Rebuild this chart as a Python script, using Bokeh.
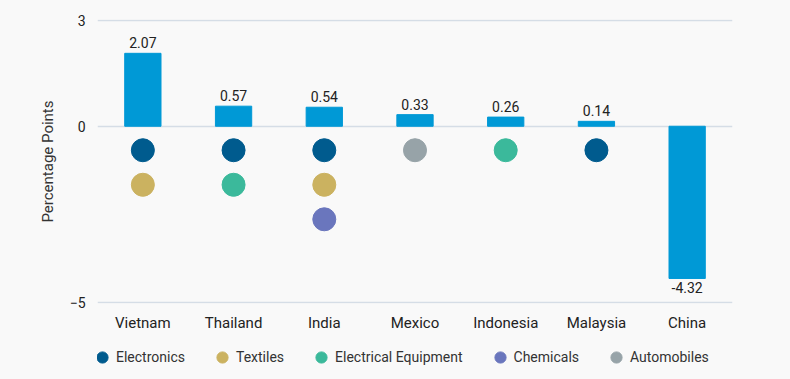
from bokeh.plotting import figure
from bokeh.layouts import column
from bokeh.models import ColumnDataSource, Legend, LegendItem, FixedTicker, Range1d
from bokeh.embed import file_html
from bokeh.resources import INLINE
from bokeh.core.properties import value

countries = ["Vietnam", "Thailand", "India", "Mexico", "Indonesia", "Malaysia", "China"]
values = [2.07, 0.57, 0.54, 0.33, 0.26, 0.14, -4.32]
labels = ["2.07", "0.57", "0.54", "0.33", "0.26", "0.14", "-4.32"]

industries = ["Electronics", "Textiles", "Electrical Equipment", "Chemicals", "Automobiles"]
ind_colors = ["#005b8e", "#cbb260", "#3bb99b", "#6a76bd", "#97a3a8"]
# (country, industry, row rank)
dot_country = ["Vietnam", "Vietnam", "Thailand", "Thailand", "India", "India", "India",
               "Mexico", "Indonesia", "Malaysia"]
dot_industry = ["Electronics", "Textiles", "Electronics", "Electrical Equipment",
                "Electronics", "Textiles", "Chemicals", "Automobiles",
                "Electrical Equipment", "Electronics"]
dot_rank = [1, 2, 1, 2, 1, 2, 3, 1, 1, 1]

FONT = "Roboto"
BG = "#f9f9f9"

p = figure(x_range=countries, y_range=Range1d(-5.03, 3.03), frame_width=635, frame_height=284,
           output_backend="svg", toolbar_location=None,
           background_fill_color=BG, border_fill_color=BG,
           min_border_left=97, min_border_right=58, min_border_top=19, min_border_bottom=32)
p.outline_line_color = None

src = ColumnDataSource(dict(x=countries, top=values))
p.vbar(x="x", top="top", bottom=0, width=0.4, source=src, color="#0099d6")

pos = ColumnDataSource(dict(x=[c for c, v in zip(countries, values) if v > 0],
                            y=[v for v in values if v > 0],
                            t=[l for l, v in zip(labels, values) if v > 0]))
p.text(x="x", y="y", text="t", source=pos, text_align="center", text_baseline="bottom",
       y_offset=-5, text_font=value(FONT), text_font_size="14px", text_color="#222222")
neg = ColumnDataSource(dict(x=[c for c, v in zip(countries, values) if v < 0],
                            y=[v for v in values if v < 0],
                            t=[l for l, v in zip(labels, values) if v < 0]))
p.text(x="x", y="y", text="t", source=neg, text_align="center", text_baseline="top",
       y_offset=4, text_font=value(FONT), text_font_size="14px", text_color="#222222")

dot_data = []
for ind, col in zip(industries, ind_colors):
    xs = [c for c, i in zip(dot_country, dot_industry) if i == ind]
    ys = [-0.68 - 0.98 * (r - 1) for r, i in zip(dot_rank, dot_industry) if i == ind]
    p.scatter(x=xs, y=ys, size=23, color=col, line_color=col)
    dot_data.append((xs, ys))

p.yaxis.ticker = FixedTicker(ticks=[-5, 0, 3])
p.yaxis.axis_line_color = None
p.yaxis.major_tick_line_color = None
p.yaxis.minor_tick_line_color = None
p.yaxis.major_label_text_font = FONT
p.yaxis.major_label_text_font_size = "14px"
p.yaxis.major_label_text_color = "#222222"
p.yaxis.major_label_standoff = 6
p.yaxis.axis_label = "Percentage Points"
p.yaxis.axis_label_text_font = FONT
p.yaxis.axis_label_text_font_size = "15px"
p.yaxis.axis_label_text_font_style = "normal"
p.yaxis.axis_label_text_color = "#333333"
p.yaxis.axis_label_standoff = 10

p.xaxis.axis_line_color = None
p.xaxis.major_tick_line_color = None
p.xaxis.major_label_text_font = FONT
p.xaxis.major_label_text_font_size = "15px"
p.xaxis.major_label_text_color = "#222222"
p.xaxis.major_label_standoff = 4

p.xgrid.grid_line_color = None
p.ygrid.grid_line_color = "#d5dde6"
p.ygrid.grid_line_width = 1.5

# legend strip (hidden renderers carry the same dot data; only their legend glyphs show)
lg = figure(width=790, height=44, x_range=countries, y_range=Range1d(-5.03, 3.03),
            x_axis_type=None, y_axis_type=None, output_backend="svg", toolbar_location=None,
            background_fill_color=BG, border_fill_color=BG, min_border=0)
lg.outline_line_color = None
lg.xgrid.grid_line_color = None
lg.ygrid.grid_line_color = None
items = []
for ind, col, (xs, ys) in zip(industries, ind_colors, dot_data):
    r = lg.scatter(x=xs, y=ys, size=23, color=col, line_color=col, visible=False)
    items.append(LegendItem(label=ind, renderers=[r]))
legend = Legend(items=items, orientation="horizontal", location=(-9, 8),
                background_fill_alpha=0, border_line_color=None,
                inactive_fill_alpha=0,
                label_text_font=FONT, label_text_font_size="14px", label_text_color="#333333",
                glyph_width=28, glyph_height=28, spacing=23, label_standoff=0,
                padding=0, margin=0, click_policy="none")
lg.add_layout(legend, "center")

layout = column(p, lg, spacing=0, styles={"background-color": BG})
open("out.html", "w").write(file_html(layout, INLINE))
